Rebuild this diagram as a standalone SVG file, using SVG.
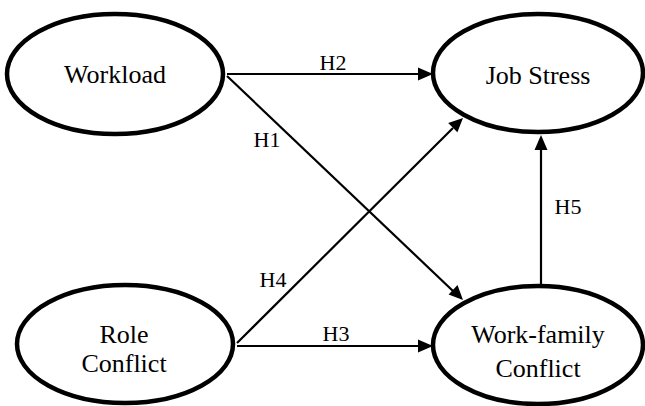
<svg xmlns="http://www.w3.org/2000/svg" width="645" height="406" viewBox="0 0 645 406" font-family="Liberation Serif, serif">
<rect width="645" height="406" fill="#fff"/>
<g id="connectors" stroke="#000" stroke-width="2.2" fill="#000">
<line x1="227" y1="74" x2="420" y2="74"/>
<polygon points="433,74 418,67.5 418,80.5" stroke="none"/>
<line x1="227" y1="76" x2="453" y2="291"/>
<polygon points="463,300 448.6,294.6 457.5,285.1" stroke="none"/>
<line x1="237" y1="346" x2="420" y2="346"/>
<polygon points="433,346 418,339.5 418,352.5" stroke="none"/>
<line x1="237" y1="343" x2="453" y2="128"/>
<polygon points="463,118 457.4,132.3 448.2,123.1" stroke="none"/>
<line x1="541" y1="287" x2="541" y2="148"/>
<polygon points="541,135 534.5,150 547.5,150" stroke="none"/>
</g>
<g id="labels" font-size="22" text-anchor="middle" fill="#000">
<text x="333" y="70" font-family="Liberation Serif">H2</text>
<text x="267" y="147" font-family="Liberation Serif">H1</text>
<text x="336" y="341" font-family="Liberation Serif">H3</text>
<text x="273" y="287" font-family="Liberation Serif">H4</text>
<text x="568" y="214" font-family="Liberation Serif">H5</text>
</g>
<g id="workload">
<ellipse cx="115" cy="74" rx="108" ry="60" fill="#fff" stroke="#000" stroke-width="4.5"/>
<text x="115" y="83" font-family="Liberation Serif" font-size="26" text-anchor="middle">Workload</text>
</g>
<g id="job-stress">
<ellipse cx="538" cy="73" rx="105" ry="59" fill="#fff" stroke="#000" stroke-width="4.5"/>
<text x="538" y="84" font-family="Liberation Serif" font-size="26" text-anchor="middle">Job Stress</text>
</g>
<g id="role-conflict">
<ellipse cx="125" cy="344" rx="108" ry="59" fill="#fff" stroke="#000" stroke-width="4.5"/>
<text x="124" y="343" font-family="Liberation Serif" font-size="26" text-anchor="middle">Role</text>
<text x="124" y="372" font-family="Liberation Serif" font-size="26" text-anchor="middle">Conflict</text>
</g>
<g id="work-family-conflict">
<ellipse cx="538" cy="345" rx="105" ry="59" fill="#fff" stroke="#000" stroke-width="4.5"/>
<text x="538" y="343" font-family="Liberation Serif" font-size="26" text-anchor="middle">Work-family</text>
<text x="538" y="377" font-family="Liberation Serif" font-size="26" text-anchor="middle">Conflict</text>
</g>
</svg>
